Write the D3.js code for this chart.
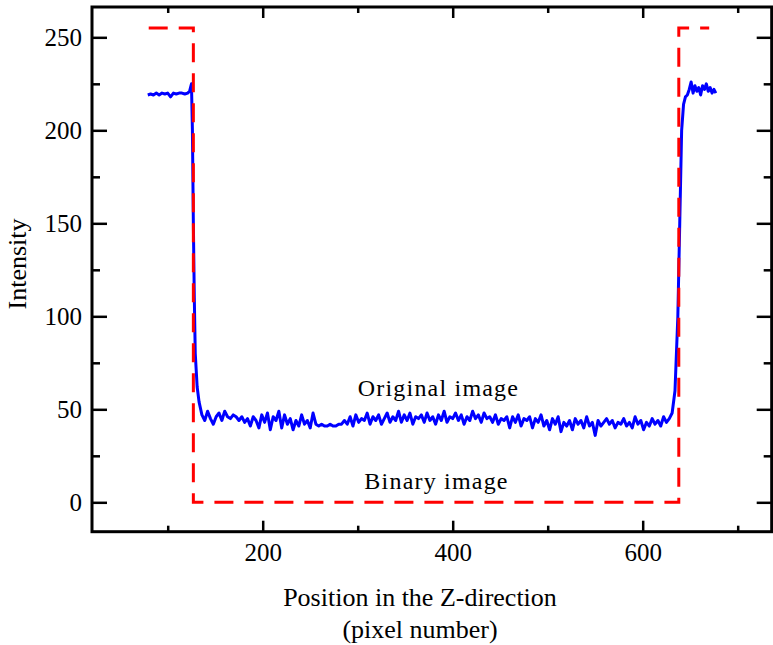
<!doctype html>
<html>
<head>
<meta charset="utf-8">
<title>Intensity profile</title>
<script src="https://d3js.org/d3.v7.min.js"></script>
<style>
  body { margin: 0; background: #fff; }
  text { font-family: "Liberation Serif", "Times New Roman", serif; fill: #000; }
</style>
</head>
<body>
<svg width="773" height="645"></svg>
<script>
// x tick values
var xMajor = [200, 400, 600];
var xMinor = [100, 300, 500, 700];
var yMajor = [0, 50, 100, 150, 200, 250];
var yMinor = [25, 75, 125, 175, 225];

// binary (thresholded) profile
var binary = [[80, 255], [127, 255], [127, 0], [638, 0], [638, 255], [670, 255]];

// original profile: left plateau + edge
var origLeft = [
  [79, 219], [82, 219.5], [85, 219], [88, 220], [91, 219], [94, 220], [97, 219.5],
  [100, 220], [103, 218], [106, 220], [109, 219.5], [112, 220], [115, 220],
  [118, 219.5], [121, 220], [123, 221], [125, 225], [126, 200], [127, 150],
  [128, 110], [129, 80], [131, 62], [133, 54]
];
// original profile: middle section, x from 136 step 3
var midStart = 136, midStep = 3;
var origMid = [
  47, 44, 49, 45, 42, 46, 48, 44, 49, 46,
  45, 47, 46, 44, 46, 43, 45, 41, 46, 44,
  40, 47, 43, 48, 39, 46, 44, 49, 40, 47,
  42, 45, 39, 44, 41, 47, 42, 44, 40, 48,
  42, 41, 42, 41, 41, 42, 41, 41, 42, 42,
  44, 42, 46, 41, 47, 43, 45, 44, 48, 42,
  46, 44, 47, 42, 45, 48, 43, 46, 44, 49,
  43, 47, 44, 48, 42, 46, 45, 47, 43, 48,
  44, 46, 42, 47, 44, 49, 43, 46, 45, 48,
  44, 47, 42, 46, 44, 49, 45, 47, 43, 48,
  45, 46, 43, 47, 42, 45, 44, 46, 40, 46,
  43, 47, 41, 45, 44, 46, 40, 45, 43, 47,
  41, 44, 39, 45, 42, 46, 38, 43, 41, 44,
  39, 45, 42, 44, 40, 46, 41, 43, 36, 44,
  41, 43, 45, 42, 44, 40, 43, 42, 45, 41,
  43, 40, 46, 42, 44, 39, 43, 41, 45, 42,
  44, 41, 46, 43, 45
];
// original profile: right edge + plateau
var origRight = [
  [631, 48], [634, 60], [637, 100], [639, 150], [641, 200], [643, 214], [645, 218],
  [647, 219], [649, 222], [651, 226], [653, 220], [655, 224], [657, 221], [659, 223],
  [661, 219], [663, 224], [665, 222], [667, 225], [669, 221], [671, 223], [673, 220],
  [675, 222], [677, 220]
];

var labels = [
  { text: "Original image", x: 385, y: 57 },
  { text: "Binary image", x: 383, y: 7 }
];

var original = origLeft
  .concat(origMid.map(function(v, i) { return [midStart + i * midStep, v]; }))
  .concat(origRight);

var svg = d3.select("svg"),
    plotL = 92, plotT = 7, plotR = 771.7, plotB = 531.7;

var x = d3.scaleLinear().domain([20.3, 735.8]).range([plotL, plotR]);
var y = d3.scaleLinear().domain([-15.8, 266.3]).range([plotB, plotT]);

var line = d3.line()
  .x(function(d) { return x(d[0]); })
  .y(function(d) { return y(d[1]); });

svg.append("path")
  .datum(original)
  .attr("d", line)
  .attr("fill", "none")
  .attr("stroke", "#0000ff")
  .attr("stroke-width", 3)
  .attr("stroke-linejoin", "round");

svg.append("path")
  .datum(binary)
  .attr("d", line)
  .attr("fill", "none")
  .attr("stroke", "#ff0000")
  .attr("stroke-width", 3)
  .attr("stroke-dasharray", "19,11");

// axes, ticks pointing inward
function axisG(axis, tx, ty) {
  var g = svg.append("g")
    .attr("transform", "translate(" + tx + "," + ty + ")")
    .call(axis);
  g.select(".domain").remove();
  g.selectAll(".tick line").attr("stroke-width", 2.5);
  g.selectAll("text").style("font-size", "25px").style("font-family", "Liberation Serif");
  return g;
}

axisG(d3.axisBottom(x).tickValues(xMajor).tickSizeInner(-11).tickSizeOuter(0).tickPadding(12), 0, plotB);
axisG(d3.axisBottom(x).tickValues(xMinor).tickSizeInner(-6).tickSizeOuter(0).tickFormat(""), 0, plotB);
axisG(d3.axisTop(x).tickValues(xMajor).tickSizeInner(-11).tickSizeOuter(0).tickFormat(""), 0, plotT);
axisG(d3.axisTop(x).tickValues(xMinor).tickSizeInner(-6).tickSizeOuter(0).tickFormat(""), 0, plotT);

axisG(d3.axisLeft(y).tickValues(yMajor).tickSizeInner(-15).tickSizeOuter(0).tickPadding(10), plotL, 0);
axisG(d3.axisLeft(y).tickValues(yMinor).tickSizeInner(-8).tickSizeOuter(0).tickFormat(""), plotL, 0);
axisG(d3.axisRight(y).tickValues(yMajor).tickSizeInner(-15).tickSizeOuter(0).tickFormat(""), plotR, 0);
axisG(d3.axisRight(y).tickValues(yMinor).tickSizeInner(-8).tickSizeOuter(0).tickFormat(""), plotR, 0);

svg.append("rect")
  .attr("x", plotL).attr("y", plotT)
  .attr("width", plotR - plotL).attr("height", plotB - plotT)
  .attr("fill", "none")
  .attr("stroke", "#000")
  .attr("stroke-width", 3);

svg.selectAll(".note")
  .data(labels)
  .enter().append("text")
  .attr("class", "note")
  .attr("x", function(d) { return x(d.x); })
  .attr("y", function(d) { return y(d.y); })
  .attr("text-anchor", "middle")
  .style("font-size", "24px")
  .style("letter-spacing", "1.2px")
  .text(function(d) { return d.text; });

svg.append("text")
  .attr("transform", "translate(26,264) rotate(-90)")
  .attr("text-anchor", "middle")
  .style("font-size", "26px")
  .text("Intensity");

svg.append("text")
  .attr("x", 420).attr("y", 606)
  .attr("text-anchor", "middle")
  .style("font-size", "26px")
  .text("Position in the Z-direction");

svg.append("text")
  .attr("x", 420).attr("y", 638)
  .attr("text-anchor", "middle")
  .style("font-size", "26px")
  .text("(pixel number)");
</script>
</body>
</html>
